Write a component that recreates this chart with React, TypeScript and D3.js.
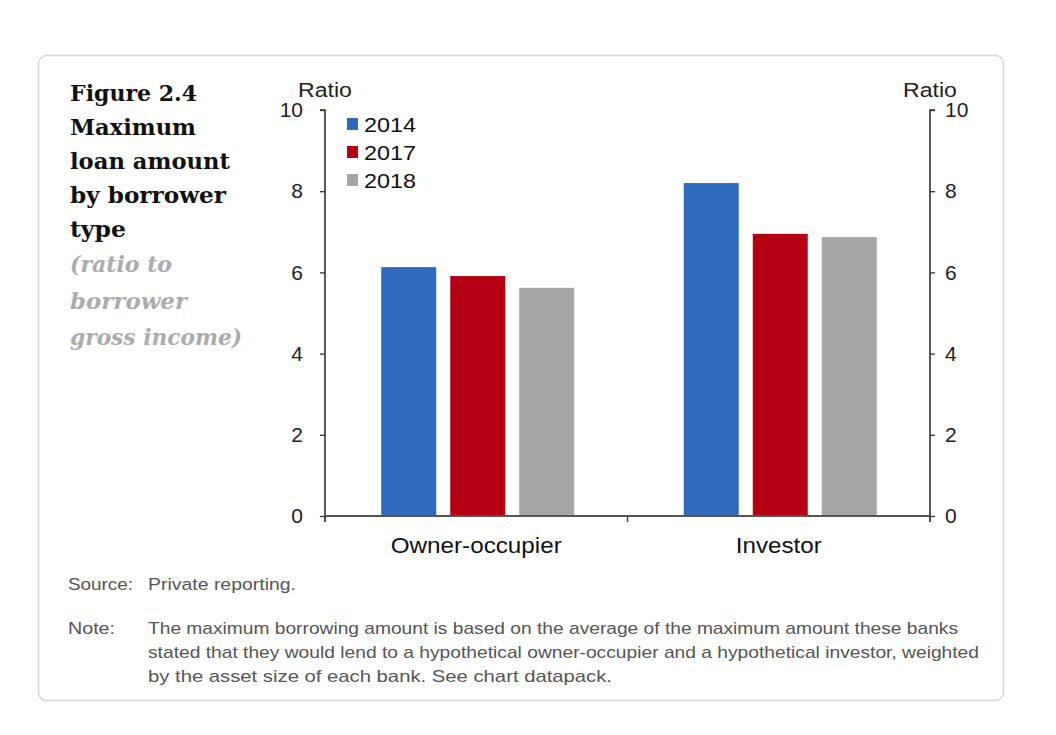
import { useEffect, useRef } from "react";
import * as d3 from "d3";

const categories = ["Owner-occupier", "Investor"];
const years = ["2014", "2017", "2018"];
const values2014 = [6.13, 8.2];
const values2017 = [5.91, 6.95];
const values2018 = [5.62, 6.87];
const yTicks = [0, 2, 4, 6, 8, 10];
const colors = ["#2e6bbd", "#b50014", "#a6a6a6"];

const titleLines = ["Figure 2.4", "Maximum", "loan amount", "by borrower", "type"];
const subtitleLines = ["(ratio to", "borrower", "gross income)"];
const noteLines = [
    "The maximum borrowing amount is based on the average of the maximum amount these banks",
    "stated that they would lend to a hypothetical owner-occupier and a hypothetical investor, weighted",
    "by the asset size of each bank. See chart datapack.",
];
const noteWidths = [810, 831, 464];

export default function App() {
    const svgRef = useRef<SVGSVGElement | null>(null);

    useEffect(() => {
        if (!svgRef.current) return;
        const root = d3.select(svgRef.current);
        root.selectAll("*").remove();

        const sans = "'Liberation Sans', Arial, sans-serif";
        const serif = "'DejaVu Serif', Georgia, serif";

        // frame
        root.append("rect")
            .attr("x", 38.5).attr("y", 55.5)
            .attr("width", 965).attr("height", 645)
            .attr("rx", 8)
            .attr("fill", "#fff")
            .attr("stroke", "#d6d6d6")
            .attr("stroke-width", 1.5);

        // title
        const title = root.append("g").attr("font-family", serif).attr("font-weight", "bold").attr("font-size", 23).attr("fill", "#111");
        const titleWidths = [127, 126, 160, 156, 56];
        titleLines.forEach((t, i) => {
            title.append("text").attr("x", 70).attr("y", 101 + i * 34)
                .attr("textLength", titleWidths[i]).attr("lengthAdjust", "spacingAndGlyphs").text(t);
        });
        const sub = root.append("g").attr("font-family", serif).attr("font-style", "italic").attr("font-weight", "bold").attr("font-size", 23).attr("fill", "#acacac");
        const subWidths = [102, 117, 172];
        subtitleLines.forEach((t, i) => {
            sub.append("text").attr("x", 70).attr("y", 272 + i * 36.5)
                .attr("textLength", subWidths[i]).attr("lengthAdjust", "spacingAndGlyphs").text(t);
        });

        const left = 325, right = 930, top = 110, bottom = 516;

        const x0 = d3.scaleBand().domain(categories).range([left, right]).padding(0);
        const x1 = d3.scaleBand().domain(years).range([0, 193]).paddingInner(0.203).paddingOuter(0);
        const y = d3.scaleLinear().domain([0, 10]).range([bottom, top]);

        const series = [values2014, values2017, values2018];

        // bars
        categories.forEach((c, ci) => {
            const gx = (x0(c) || 0) + x0.bandwidth() / 2 - 95;
            years.forEach((yr, si) => {
                const v = series[si][ci];
                root.append("rect")
                    .attr("x", gx + (x1(yr) || 0))
                    .attr("y", y(v))
                    .attr("width", x1.bandwidth())
                    .attr("height", bottom - y(v))
                    .attr("fill", colors[si]);
            });
        });

        // left axis
        const la = root.append("g")
            .attr("transform", `translate(${left},0)`)
            .call(d3.axisLeft(y).tickValues(yTicks).tickSize(5).tickPadding(17).tickFormat((d) => `${d}`));
        la.select(".domain").attr("stroke", "#333").attr("stroke-width", 1.6).attr("d", `M-5,${top}H0V${bottom + 6}`);
        la.selectAll(".tick line").attr("stroke", "#333").attr("stroke-width", 1.3);
        la.selectAll(".tick text").attr("font-family", sans).attr("font-size", 21).attr("fill", "#222");

        // right axis
        const ra = root.append("g")
            .attr("transform", `translate(${right},0)`)
            .call(d3.axisRight(y).tickValues(yTicks).tickSize(5).tickPadding(10).tickFormat((d) => `${d}`));
        ra.select(".domain").attr("stroke", "#333").attr("stroke-width", 1.6).attr("d", `M5,${top}H0V${bottom + 6}`);
        ra.selectAll(".tick line").attr("stroke", "#333").attr("stroke-width", 1.3);
        ra.selectAll(".tick text").attr("font-family", sans).attr("font-size", 21).attr("fill", "#222");

        // x axis
        root.append("line")
            .attr("x1", left).attr("x2", right)
            .attr("y1", bottom).attr("y2", bottom)
            .attr("stroke", "#555").attr("stroke-width", 2.2);
        [left, (left + right) / 2, right].forEach((tx) => {
            root.append("line")
                .attr("x1", tx).attr("x2", tx)
                .attr("y1", bottom).attr("y2", bottom + 6)
                .attr("stroke", "#444").attr("stroke-width", 1.5);
        });
        const catWidths = [171, 86];
        categories.forEach((c, i) => {
            root.append("text")
                .attr("x", (x0(c) || 0) + x0.bandwidth() / 2 - catWidths[i] / 2)
                .attr("y", 553)
                .attr("textLength", catWidths[i]).attr("lengthAdjust", "spacingAndGlyphs")
                .attr("font-family", sans).attr("font-size", 22).attr("fill", "#111")
                .text(c);
        });

        // axis units
        root.append("text").attr("x", 298).attr("y", 97).attr("textLength", 54).attr("lengthAdjust", "spacingAndGlyphs")
            .attr("font-family", sans).attr("font-size", 20).attr("fill", "#222").text("Ratio");
        root.append("text").attr("x", 903).attr("y", 97).attr("textLength", 54).attr("lengthAdjust", "spacingAndGlyphs")
            .attr("font-family", sans).attr("font-size", 20).attr("fill", "#222").text("Ratio");

        // legend
        years.forEach((yr, i) => {
            const ly = 124 + i * 28;
            root.append("rect").attr("x", 347).attr("y", ly - 6).attr("width", 11).attr("height", 12).attr("fill", colors[i]);
            root.append("text").attr("x", 364).attr("y", ly + 8)
                .attr("textLength", 52).attr("lengthAdjust", "spacingAndGlyphs")
                .attr("font-family", sans).attr("font-size", 21).attr("fill", "#111").text(yr);
        });

        // footnotes
        const foot = root.append("g").attr("font-family", sans).attr("font-size", 17).attr("fill", "#555");
        foot.append("text").attr("x", 68).attr("y", 590).attr("textLength", 65).attr("lengthAdjust", "spacingAndGlyphs").text("Source:");
        foot.append("text").attr("x", 148).attr("y", 590).attr("textLength", 148).attr("lengthAdjust", "spacingAndGlyphs").text("Private reporting.");
        foot.append("text").attr("x", 68).attr("y", 634).attr("textLength", 47).attr("lengthAdjust", "spacingAndGlyphs").text("Note:");
        noteLines.forEach((t, i) => {
            foot.append("text").attr("x", 148).attr("y", 634 + i * 24)
                .attr("textLength", noteWidths[i]).attr("lengthAdjust", "spacingAndGlyphs").text(t);
        });
    }, []);

    return (
        <div style={{ position: "absolute", left: 0, top: 0 }}>
            <svg ref={svgRef} width={1056} height={735} style={{ display: "block", background: "#fff" }} />
        </div>
    );
}
